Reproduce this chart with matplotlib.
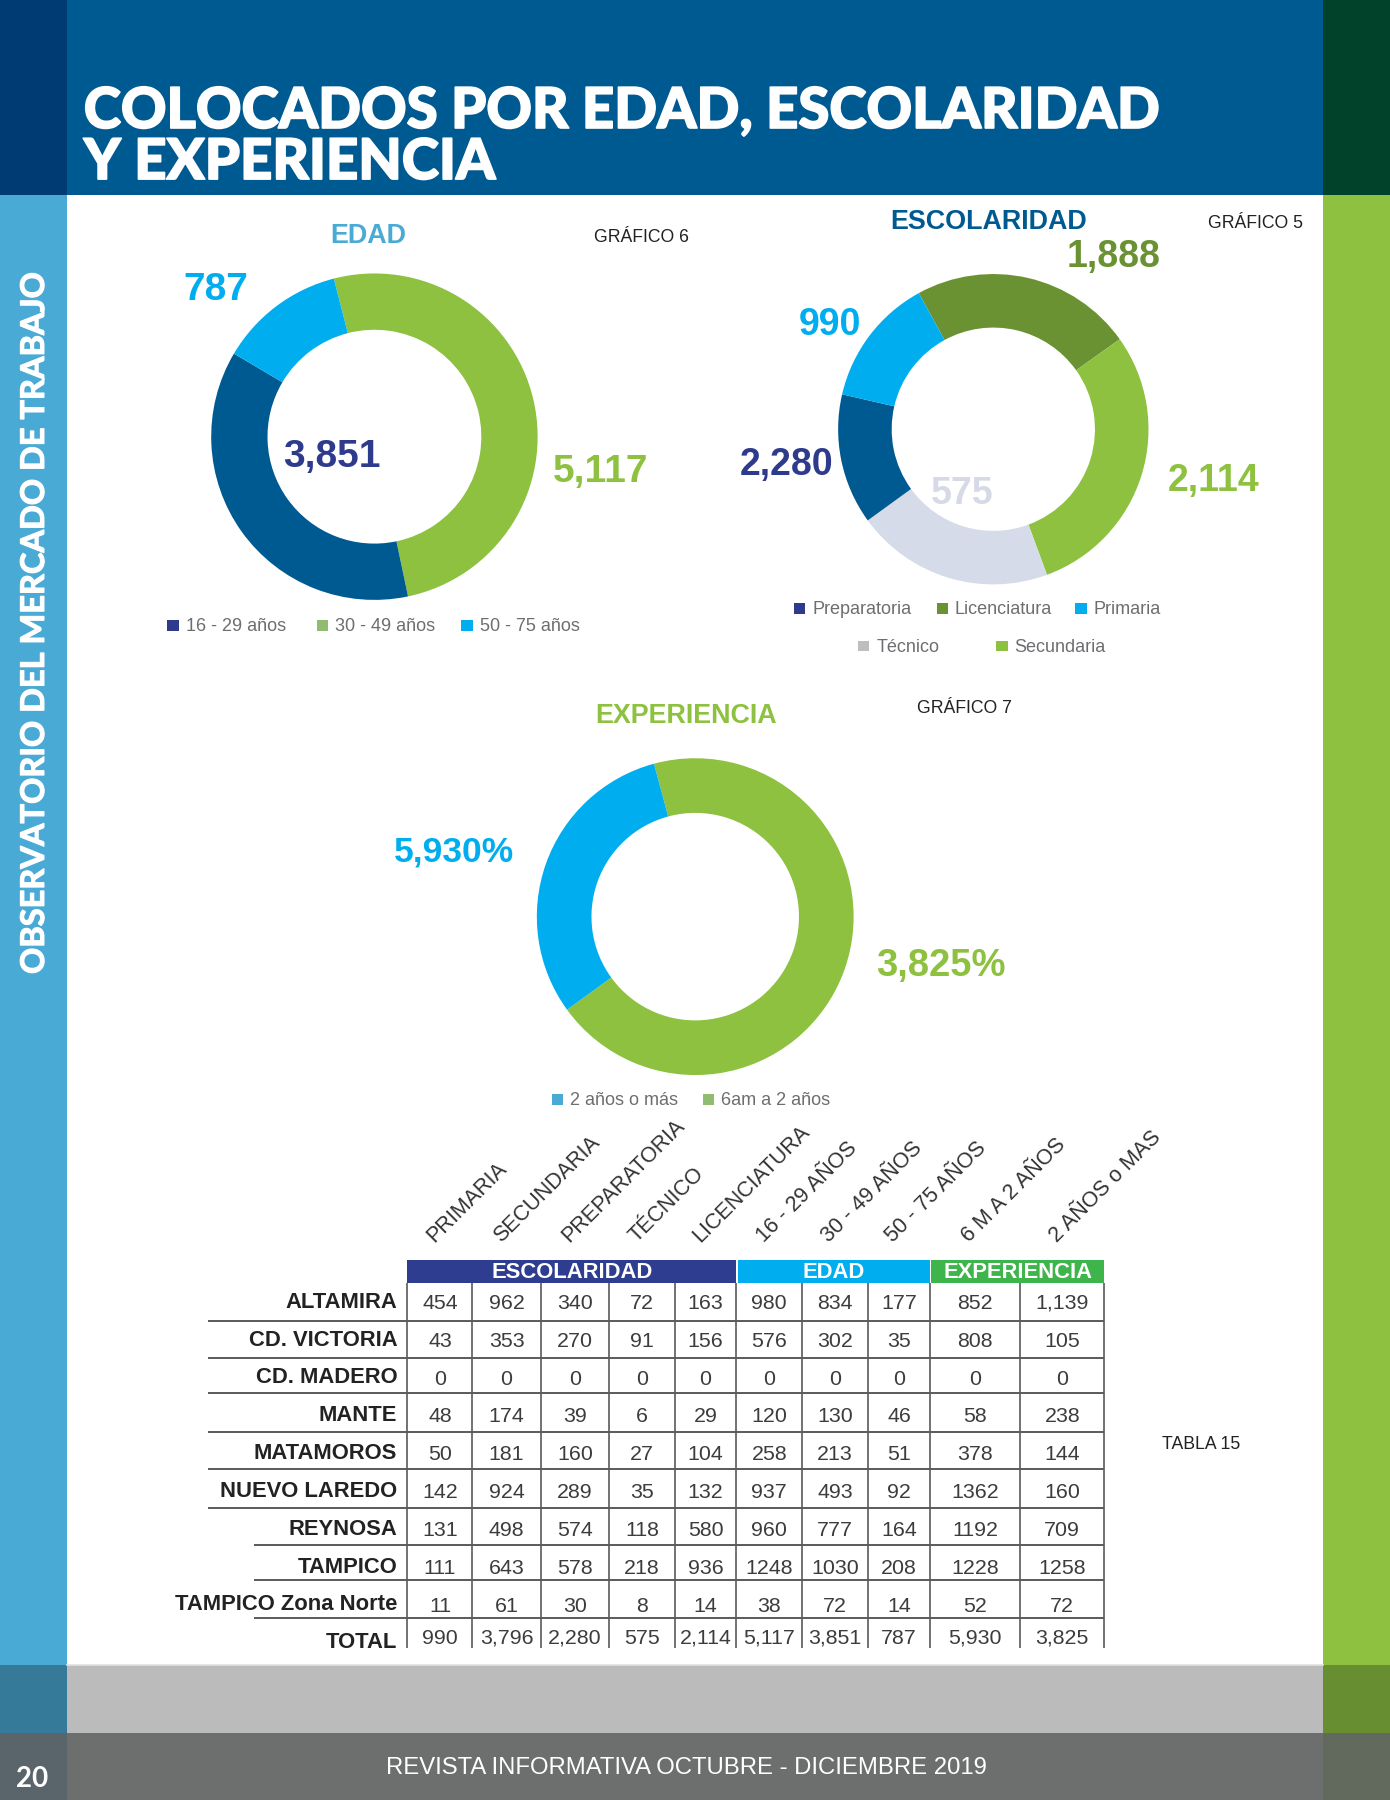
import matplotlib.pyplot as plt
from matplotlib.patches import Rectangle
import matplotlib.patheffects as pe
import numpy as np

# page layout is laid out in reference units (1211 x 1568), saved at 1390 x 1800
W, H = 1211, 1568
SANS = ['Liberation Sans', 'DejaVu Sans']
HEAVY = ['Lato', 'DejaVu Sans']

# ---- donut data (ring shares as drawn in the page, clockwise from the top) ----
edad_names = ['30 - 49 años', '16 - 29 años', '50 - 75 años']
edad_arc = [50.7, 36.8, 12.5]
edad_values = [5117, 3851, 787]

escol_names = ['Licenciatura', 'Secundaria', 'Técnico', 'Preparatoria', 'Primaria']
escol_arc = [23.1, 29.2, 20.6, 13.6, 13.4]
escol_values = [1888, 2114, 575, 2280, 990]

exp_names = ['6am a 2 años', '2 años o más']
exp_arc = [69.2, 30.8]
exp_values = [3825, 5930]

# ---- table data ----
cities = ['ALTAMIRA', 'CD. VICTORIA', 'CD. MADERO', 'MANTE', 'MATAMOROS',
          'NUEVO LAREDO', 'REYNOSA', 'TAMPICO', 'TAMPICO Zona Norte']
col_names = ['PRIMARIA', 'SECUNDARIA', 'PREPARATORIA', 'TÉCNICO', 'LICENCIATURA',
             '16 - 29 AÑOS', '30 - 49 AÑOS', '50 - 75 AÑOS', '6 M A 2 AÑOS', '2 AÑOS o MAS']
primaria = [454, 43, 0, 48, 50, 142, 131, 111, 11]
secundaria = [962, 353, 0, 174, 181, 924, 498, 643, 61]
preparatoria = [340, 270, 0, 39, 160, 289, 574, 578, 30]
tecnico = [72, 91, 0, 6, 27, 35, 118, 218, 8]
licenciatura = [163, 156, 0, 29, 104, 132, 580, 936, 14]
edad_16_29 = [980, 576, 0, 120, 258, 937, 960, 1248, 38]
edad_30_49 = [834, 302, 0, 130, 213, 493, 777, 1030, 72]
edad_50_75 = [177, 35, 0, 46, 51, 92, 164, 208, 14]
exp_6m_2 = [852, 808, 0, 58, 378, 1362, 1192, 1228, 52]
exp_2_mas = [1139, 105, 0, 238, 144, 160, 709, 1258, 72]
comma_cells = [(0, 9)]   # cells printed with thousands separator

table_cols = [primaria, secundaria, preparatoria, tecnico, licenciatura,
              edad_16_29, edad_30_49, edad_50_75, exp_6m_2, exp_2_mas]

fig = plt.figure(figsize=(13.9, 18), dpi=100)
fig.patch.set_facecolor('white')

bg = fig.add_axes([0, 0, 1, 1])
bg.set_xlim(0, W)
bg.set_ylim(H, 0)
bg.axis('off')


def box(ax, x0, y0, x1, y1, c, z=0):
    ax.add_patch(Rectangle((x0, y0), x1 - x0, y1 - y0, facecolor=c, edgecolor='none', zorder=z))


# page bands
box(bg, 0, 0, 58, 170, '#003b73')
box(bg, 58, 0, 1153, 170, '#005a92')
box(bg, 1153, 0, 1211, 170, '#00432a')
box(bg, 0, 170, 58, 1450, '#4aaad6')
box(bg, 1153, 170, 1211, 1450, '#8dc13f')
box(bg, 0, 1450, 58, 1510, '#357a98')
box(bg, 58, 1450, 1153, 1510, '#bbbbbb')
box(bg, 1153, 1450, 1211, 1510, '#678e31')
box(bg, 0, 1510, 58, 1568, '#5a646b')
box(bg, 58, 1510, 1153, 1568, '#6d6f6e')
box(bg, 1153, 1510, 1211, 1568, '#616a5c')
bg.plot([58, 1153], [1450, 1450], color='#e2e2e2', lw=1.2)


def donut(cx, cy, r, arc, colors, start):
    ax = fig.add_axes([(cx - r) / W, 1 - (cy + r) / H, 2 * r / W, 2 * r / H])
    ax.pie(arc, colors=colors, startangle=start, counterclock=False, radius=1,
           wedgeprops=dict(width=0.345, linewidth=0))
    ax.set_xlim(-1, 1)
    ax.set_ylim(-1, 1)
    ax.set_axis_off()
    return ax


donut(326.2, 380.4, 142.2, edad_arc, ['#8dc13f', '#005a92', '#00aeef'], 104.4)
donut(865.4, 373.9, 135.2, escol_arc, ['#6a9232', '#8dc13f', '#d5dbe9', '#005a92', '#00aeef'], 118.7)
donut(605.7, 798.5, 138.0, exp_arc, ['#8dc13f', '#00aeef'], 105.1)

top = fig.add_axes([0, 0, 1, 1])
top.set_xlim(0, W)
top.set_ylim(H, 0)
top.axis('off')
top.patch.set_visible(False)


def fit(t, target, vertical=False):
    r = fig.canvas.get_renderer()
    bb = t.get_window_extent(r)
    size = bb.height if vertical else bb.width
    t.set_fontsize(t.get_fontsize() * target * 1390 / W / size)


# title (stroke thickens the heavy face a little)
heavy_fx = [pe.withStroke(linewidth=1.2, foreground='white')]
t1 = top.text(73, 111.5, 'COLOCADOS POR EDAD, ESCOLARIDAD', color='white', fontsize=36,
              fontweight='black', family=HEAVY, va='baseline', path_effects=heavy_fx)
fit(t1, 936)
top.text(73, 156, 'Y EXPERIENCIA', color='white', fontsize=t1.get_fontsize(),
         fontweight='black', family=HEAVY, va='baseline', path_effects=heavy_fx)

v = top.text(30, 542.5, 'OBSERVATORIO DEL MERCADO DE TRABAJO', rotation=90, ha='center',
             va='center', color='white', fontsize=20, fontweight='bold', family=HEAVY,
             path_effects=[pe.withStroke(linewidth=0.8, foreground='white')])
fit(v, 611, vertical=True)

top.text(28.3, 1557, '20', color='white', fontsize=20, fontweight='bold', family=HEAVY,
         ha='center', va='baseline')
top.text(598, 1545, 'REVISTA INFORMATIVA OCTUBRE - DICIEMBRE 2019', color='white',
         fontsize=17.2, family=SANS, ha='center', va='baseline')

# chart titles
top.text(321, 212, 'EDAD', color='#4aaad6', fontsize=19.4, fontweight='bold', family=SANS,
         ha='center', va='baseline')
top.text(861.7, 199.8, 'ESCOLARIDAD', color='#005a92', fontsize=19.4, fontweight='bold',
         family=SANS, ha='center', va='baseline')
top.text(598, 630.2, 'EXPERIENCIA', color='#8dc13f', fontsize=19.4, fontweight='bold',
         family=SANS, ha='center', va='baseline')
for x, y, s in [(517.5, 211, 'GRÁFICO 6'), (1052.4, 198.9, 'GRÁFICO 5'), (799, 621.4, 'GRÁFICO 7')]:
    top.text(x, y, s, color='#222222', fontsize=12.7, family=SANS, ha='left', va='baseline')

# value labels
big = dict(fontweight='bold', family=SANS, ha='center', va='baseline')
edad_pos = [(523, 419.6), (289.2, 406.6), (188.3, 261.4)]
edad_col = ['#8dc13f', '#2e3a8c', '#00aeef']
for (x, y), val, c in zip(edad_pos, edad_values, edad_col):
    top.text(x, y, f'{val:,}', color=c, fontsize=28, **big)

escol_pos = [(970, 232.9), (1057.5, 427.7), (838.3, 439), (685, 413.8), (723, 291.8)]
escol_col = ['#6a9232', '#8dc13f', '#d6dae6', '#2e3a8c', '#00aeef']
for (x, y), val, c in zip(escol_pos, escol_values, escol_col):
    top.text(x, y, f'{val:,}', color=c, fontsize=27, **big)

exp_pos = [(819.8, 850.4), (395.4, 750.6)]
exp_col = ['#8dc13f', '#00aeef']
exp_size = [27.5, 25.5]
for (x, y), val, c, fs in zip(exp_pos, exp_values, exp_col, exp_size):
    top.text(x, y, f'{val:,}%', color=c, fontsize=fs, **big)


# legends
def legend_item(x, y, name, c):
    box(top, x - 16, y - 10, x - 6, y - 0.5, c, z=3)
    top.text(x, y, name, color='#6d6e71', fontsize=13, family=SANS, ha='left', va='baseline')


for x, name, c in [(161.7, '16 - 29 años', '#2e3a8c'), (292, '30 - 49 años', '#8fbc6f'),
                   (418, '50 - 75 años', '#00aeef')]:
    legend_item(x, 550, name, c)
for x, y, name, c in [(707.7, 535, 'Preparatoria', '#2e3a8c'), (832, 535, 'Licenciatura', '#6a9232'),
                      (952.8, 535, 'Primaria', '#00aeef'), (763.5, 568, 'Técnico', '#bcbec0'),
                      (883.8, 568, 'Secundaria', '#8dc13f')]:
    legend_item(x, y, name, c)
for x, name, c in [(496.8, '2 años o más', '#4aaad6'), (628.4, '6am a 2 años', '#8fbc6f')]:
    legend_item(x, 963, name, c)

# ---- table ----
col_edges = [355, 411.6, 471, 531, 587.7, 641.6, 698.8, 756, 810.5, 888.8, 962.1]
row_edges = [1118, 1150.4, 1182.6, 1213.1, 1247.1, 1279.3, 1313.8, 1345.8, 1376.3, 1409.7, 1436]
line_start = [181] * 6 + [221] * 3
centers = [(a + b) / 2 for a, b in zip(col_edges[:-1], col_edges[1:])]
baselines = np.linspace(1139.2, 1435.8, len(cities) + 1)

groups = [('ESCOLARIDAD', 0, 5, '#2e3d8f'), ('EDAD', 5, 8, '#00aeef'), ('EXPERIENCIA', 8, 10, '#3db54a')]
for name, i0, i1, c in groups:
    x0 = col_edges[i0] + (1 if i0 else 0)
    box(top, x0, 1097.6, col_edges[i1], 1117.9, c, z=2)
    top.text((x0 + col_edges[i1]) / 2, 1113, name, color='white', fontsize=15.8,
             fontweight='bold', family=SANS, ha='center', va='baseline', zorder=4)

for cx, name in zip(centers, col_names):
    top.text(cx - 5, 1083, name, rotation=45, rotation_mode='anchor', ha='left',
             va='baseline', fontsize=15.5, color='#333333', family=SANS)

lc = '#5a5a5a'
for y, x0 in zip(row_edges[1:-1], line_start):
    top.plot([x0, col_edges[-1]], [y, y], color=lc, lw=1.4, solid_capstyle='butt')
for x in col_edges:
    top.plot([x, x], [row_edges[0], row_edges[-1]], color=lc, lw=1.2, solid_capstyle='butt')

for i, city in enumerate(cities):
    top.text(346, baselines[i], city, fontsize=15.8, fontweight='bold', color='#222222',
             family=SANS, ha='right', va='baseline')
    for j, col in enumerate(table_cols):
        s = f'{col[i]:,}' if (i, j) in comma_cells else str(col[i])
        top.text(centers[j], baselines[i] + 1, s, fontsize=15.4, color='#3c3c3c',
                 family=SANS, ha='center', va='baseline')

top.text(346, baselines[-1], 'TOTAL', fontsize=15.8, fontweight='bold', color='#222222',
         family=SANS, ha='right', va='baseline')
for j, col in enumerate(table_cols):
    top.text(centers[j], 1432, f'{sum(col):,}', fontsize=15.4, color='#3c3c3c',
             family=SANS, ha='center', va='baseline')

top.text(1012, 1262, 'TABLA 15', fontsize=12.7, color='#222222', family=SANS,
         ha='left', va='baseline')

fig.savefig('out.png', dpi=100)
